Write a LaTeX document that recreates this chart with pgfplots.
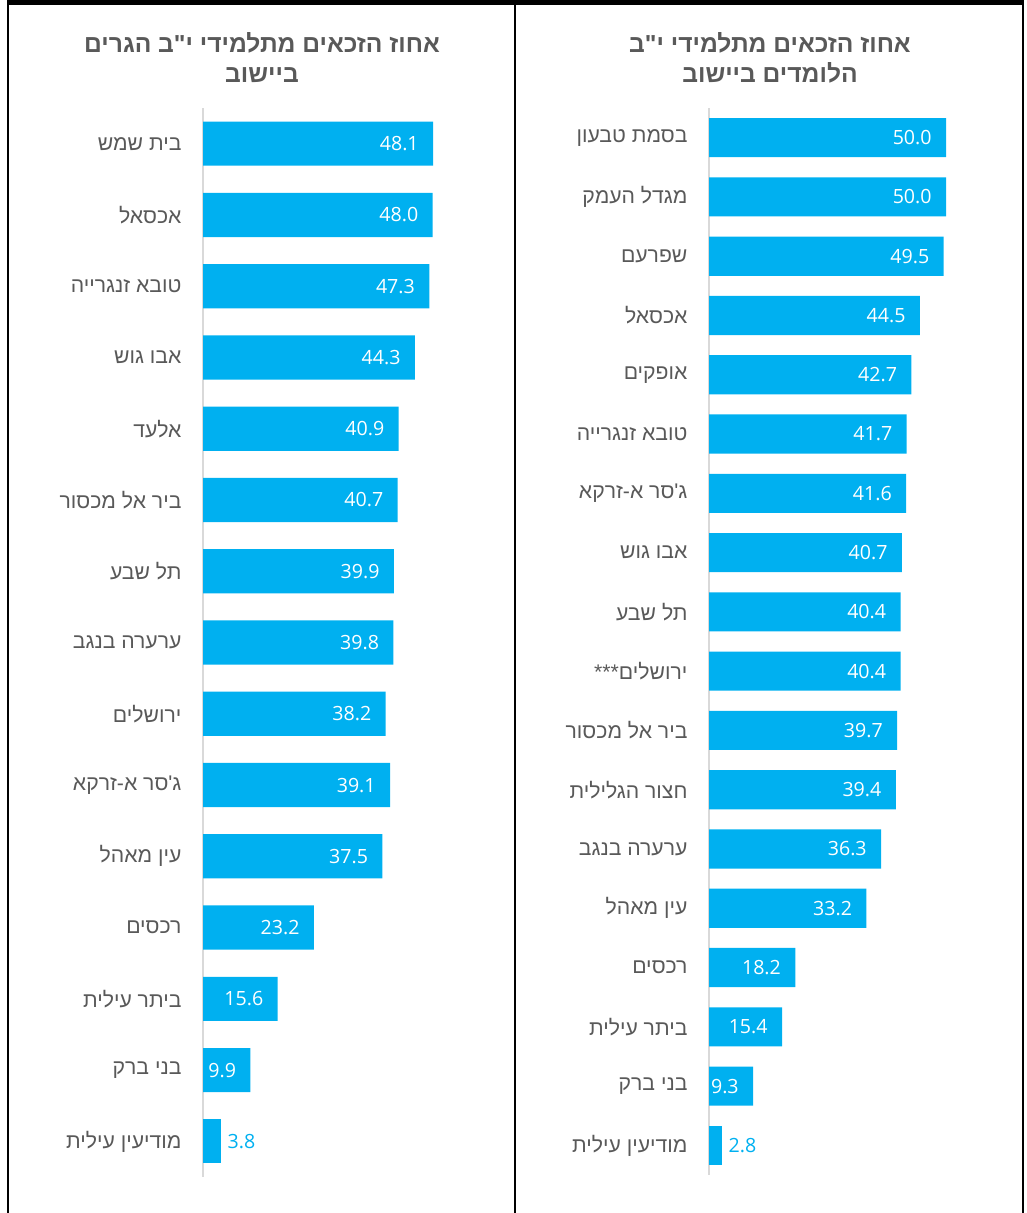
\documentclass[border=0pt]{standalone}
\usepackage{fontspec}
\usepackage{pgfplots}
\pgfplotsset{compat=1.18}
\setmainfont{Liberation Sans}
\newfontfamily\hebfont[Script=Hebrew]{Liberation Sans}
\newfontfamily\numfont{Open Sans}
\TeXXeTstate=1
\definecolor{barblue}{HTML}{00B0F0}
\definecolor{txtgrey}{HTML}{595959}
\definecolor{axgrey}{HTML}{D9D9D9}

\pgfplotsset{
  panel/.style={
    scale only axis,
    xbar, bar shift=0pt,
    xmin=0, xmax=60,
    y dir=reverse,
    axis x line=none,
    axis y line*=left,
    y axis line style={draw=axgrey, line width=0.9pt, -},
    ytick style={draw=none},
    yticklabel style={font=\hebfont\fontsize{10.6}{12}\selectfont, text=txtgrey, inner sep=0pt, xshift=-6.3pt},
    /pgf/number format/assume math mode=true,
    nodes near coords={\pgfmathprintnumber[fixed,fixed zerofill,precision=1]{\pgfplotspointmeta}},
    every axis plot/.append style={fill=barblue, draw=none},
  },
  inlab/.style={nodes near coords style={anchor=east, text=white, font=\numfont\fontsize{9.8}{12}\selectfont, inner sep=0pt, xshift=-7pt}},
  outlab/.style={nodes near coords style={anchor=west, text=barblue, font=\numfont\fontsize{9.8}{12}\selectfont, inner sep=0pt, xshift=3pt}},
}

\begin{document}
\begin{tikzpicture}
\useasboundingbox (0,0) rectangle (513pt,-606.5pt);
% frame
\draw[black, line width=2.5pt] (3.5pt,-1.25pt) -- (512pt,-1.25pt);
\draw[black, line width=1pt] (4pt,0pt) -- (4pt,-606.5pt);
\draw[black, line width=1pt] (257.5pt,0pt) -- (257.5pt,-606.5pt);
\draw[black, line width=1pt] (511.5pt,0pt) -- (511.5pt,-606.5pt);

% titles
\node[font=\hebfont\bfseries\fontsize{12.3}{15}\selectfont, text=txtgrey, align=center] at (131pt,-29pt)
  {\beginR אחוז הזכאים מתלמידי י"ב הגרים\endR\\\beginR ביישוב\endR};
\node[font=\hebfont\bfseries\fontsize{12.3}{15}\selectfont, text=txtgrey, align=center] at (385pt,-29pt)
  {\beginR אחוז הזכאים מתלמידי י"ב\endR\\\beginR הלומדים ביישוב\endR};

% left panel
\begin{axis}[panel,
  at={(101.5pt,-588.5pt)}, anchor=south west,
  width=143.5pt, height=534.5pt,
  ymin=-0.5, ymax=14.5,
  bar width=0.62,
  ytick={0,...,14},
  yticklabels={\beginR בית שמש\endR,\beginR אכסאל\endR,\beginR טובא זנגרייה\endR,\beginR אבו גוש\endR,\beginR אלעד\endR,\beginR ביר אל מכסור\endR,\beginR תל שבע\endR,\beginR ערערה בנגב\endR,\beginR ירושלים\endR,\beginR ג'סר א-זרקא\endR,\beginR עין מאהל\endR,\beginR רכסים\endR,\beginR ביתר עילית\endR,\beginR בני ברק\endR,\beginR מודיעין עילית\endR},
]
\addplot[inlab] coordinates {
  (48.1,0) (48.0,1) (47.3,2) (44.3,3) (40.9,4) (40.7,5) (39.9,6) (39.8,7)
  (38.2,8) (39.1,9) (37.5,10) (23.2,11) (15.6,12) (9.9,13)
};
\addplot[outlab] coordinates {(3.8,14)};
\end{axis}

% right panel
\begin{axis}[panel,
  at={(354.5pt,-587.5pt)}, anchor=south west,
  width=142.2pt, height=533.5pt,
  ymin=-0.5, ymax=17.5,
  bar width=0.66,
  ytick={0,...,17},
  yticklabels={\beginR בסמת טבעון\endR,\beginR מגדל העמק\endR,\beginR שפרעם\endR,\beginR אכסאל\endR,\beginR אופקים\endR,\beginR טובא זנגרייה\endR,\beginR ג'סר א-זרקא\endR,\beginR אבו גוש\endR,\beginR תל שבע\endR,\beginR ירושלים***\endR,\beginR ביר אל מכסור\endR,\beginR חצור הגלילית\endR,\beginR ערערה בנגב\endR,\beginR עין מאהל\endR,\beginR רכסים\endR,\beginR ביתר עילית\endR,\beginR בני ברק\endR,\beginR מודיעין עילית\endR},
]
\addplot[inlab] coordinates {
  (50.0,0) (50.0,1) (49.5,2) (44.5,3) (42.7,4) (41.7,5) (41.6,6) (40.7,7)
  (40.4,8) (40.4,9) (39.7,10) (39.4,11) (36.3,12) (33.2,13) (18.2,14)
  (15.4,15) (9.3,16)
};
\addplot[outlab] coordinates {(2.8,17)};
\end{axis}
\end{tikzpicture}
\end{document}
